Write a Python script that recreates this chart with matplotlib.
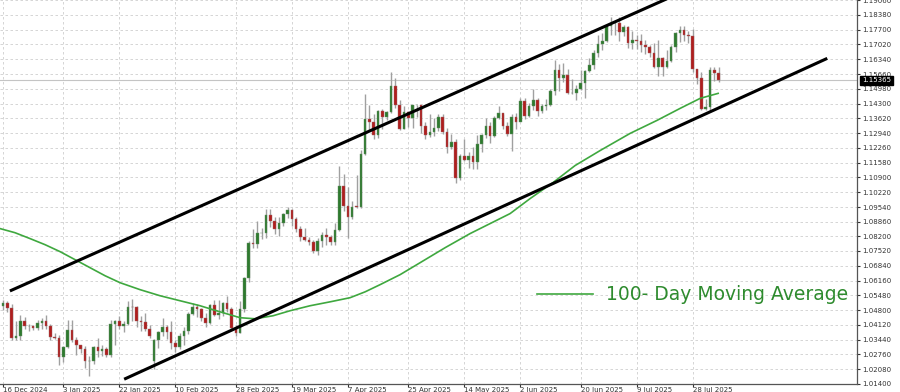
import numpy as np
import pandas as pd
import matplotlib
matplotlib.use("Agg")
import matplotlib.pyplot as plt
import matplotlib.transforms as mtransforms

# EUR/USD daily candles, 16 Dec 2024 - 5 Aug 2025 (weekdays)
dates = pd.bdate_range("2024-12-16", "2025-08-05")

opens = [
    # Dec
    1.0500, 1.0511, 1.0491, 1.0353, 1.0363, 1.0430, 1.0406, 1.0406, 1.0396, 1.0421, 1.0428, 1.0405,
    # Jan
    1.0354, 1.0352, 1.0266, 1.0308, 1.0389, 1.0343, 1.0318, 1.0300, 1.0244, 1.0245, 1.0308, 1.0292,
    1.0302, 1.0274, 1.0418, 1.0430, 1.0409, 1.0415, 1.0496, 1.0493, 1.0430, 1.0423, 1.0392,
    # Feb
    1.0245, 1.0344, 1.0379, 1.0403, 1.0381, 1.0329, 1.0308, 1.0362, 1.0382, 1.0464, 1.0493, 1.0484,
    1.0445, 1.0422, 1.0503, 1.0459, 1.0465, 1.0513, 1.0485, 1.0398,
    # Mar
    1.0376, 1.0485, 1.0626, 1.0790, 1.0784, 1.0834, 1.0834, 1.0919, 1.0888, 1.0851, 1.0879, 1.0923,
    1.0942, 1.0899, 1.0853, 1.0817, 1.0801, 1.0791, 1.0753, 1.0800, 1.0826,
    # Apr
    1.0815, 1.0791, 1.0850, 1.1050, 1.0960, 1.0910, 1.0956, 1.0955, 1.1197, 1.1357, 1.1345, 1.1284,
    1.1398, 1.1370, 1.1393, 1.1513, 1.1423, 1.1313, 1.1389, 1.1364, 1.1422, 1.1423,
    # May
    1.1327, 1.1287, 1.1298, 1.1316, 1.1368, 1.1300, 1.1230, 1.1252, 1.1089, 1.1189, 1.1172, 1.1187,
    1.1163, 1.1243, 1.1284, 1.1327, 1.1283, 1.1362, 1.1385, 1.1326, 1.1289, 1.1370,
    # Jun
    1.1347, 1.1443, 1.1371, 1.1419, 1.1446, 1.1397, 1.1419, 1.1424, 1.1487, 1.1584, 1.1549, 1.1561,
    1.1477, 1.1479, 1.1496, 1.1523, 1.1578, 1.1609, 1.1662, 1.1702, 1.1718,
    # Jul
    1.1787, 1.1800, 1.1800, 1.1757, 1.1780, 1.1708, 1.1723, 1.1720, 1.1700, 1.1690, 1.1663, 1.1598,
    1.1640, 1.1597, 1.1627, 1.1692, 1.1754, 1.1770, 1.1746, 1.1742, 1.1588, 1.1546, 1.1405,
    # Aug
    1.1415, 1.1586, 1.1572,
]
highs = [
    1.0526, 1.0522, 1.0508, 1.0430, 1.0458, 1.0446, 1.0416, 1.0411, 1.0433, 1.0444, 1.0457, 1.0418,
    1.0375, 1.0366, 1.0315, 1.0436, 1.0433, 1.0356, 1.0321, 1.0314, 1.0268, 1.0315, 1.0353, 1.0319,
    1.0310, 1.0433, 1.0436, 1.0455, 1.0430, 1.0521, 1.0533, 1.0497, 1.0455, 1.0468, 1.0411,
    1.0348, 1.0386, 1.0442, 1.0410, 1.0430, 1.0344, 1.0373, 1.0401, 1.0470, 1.0513, 1.0506, 1.0490,
    1.0466, 1.0506, 1.0528, 1.0528, 1.0518, 1.0546, 1.0496, 1.0410,
    1.0522, 1.0630, 1.0797, 1.0854, 1.0889, 1.0857, 1.0947, 1.0947, 1.0906, 1.0906, 1.0928, 1.0955,
    1.0946, 1.0907, 1.0865, 1.0859, 1.0818, 1.0804, 1.0812, 1.0838, 1.0858,
    1.0825, 1.0881, 1.1144, 1.1107, 1.1045, 1.0984, 1.1100, 1.1215, 1.1474, 1.1425, 1.1380, 1.1399,
    1.1405, 1.1395, 1.1573, 1.1547, 1.1446, 1.1418, 1.1398, 1.1425, 1.1424, 1.1424,
    1.1345, 1.1381, 1.1365, 1.1383, 1.1381, 1.1318, 1.1289, 1.1268, 1.1200, 1.1265, 1.1209, 1.1228,
    1.1287, 1.1289, 1.1364, 1.1345, 1.1375, 1.1419, 1.1384, 1.1345, 1.1384, 1.1385,
    1.1454, 1.1455, 1.1434, 1.1495, 1.1456, 1.1429, 1.1452, 1.1498, 1.1632, 1.1614, 1.1615, 1.1590,
    1.1541, 1.1514, 1.1583, 1.1586, 1.1641, 1.1678, 1.1744, 1.1754, 1.1790,
    1.1830, 1.1807, 1.1830, 1.1790, 1.1789, 1.1765, 1.1746, 1.1748, 1.1721, 1.1700, 1.1707, 1.1721,
    1.1644, 1.1677, 1.1700, 1.1759, 1.1789, 1.1788, 1.1762, 1.1771, 1.1589, 1.1577, 1.1450,
    1.1599, 1.1598, 1.1597,
]
lows = [
    1.0482, 1.0471, 1.0342, 1.0343, 1.0343, 1.0395, 1.0384, 1.0390, 1.0387, 1.0395, 1.0393, 1.0343,
    1.0345, 1.0226, 1.0240, 1.0304, 1.0334, 1.0272, 1.0284, 1.0214, 1.0178, 1.0234, 1.0266, 1.0267,
    1.0266, 1.0266, 1.0320, 1.0393, 1.0378, 1.0411, 1.0429, 1.0401, 1.0383, 1.0382, 1.0350,
    1.0210, 1.0304, 1.0362, 1.0348, 1.0303, 1.0285, 1.0300, 1.0319, 1.0370, 1.0456, 1.0448, 1.0432,
    1.0400, 1.0418, 1.0455, 1.0441, 1.0452, 1.0471, 1.0392, 1.0359,
    1.0375, 1.0469, 1.0611, 1.0764, 1.0766, 1.0808, 1.0811, 1.0862, 1.0829, 1.0822, 1.0867, 1.0903,
    1.0869, 1.0838, 1.0797, 1.0797, 1.0778, 1.0744, 1.0733, 1.0768, 1.0779,
    1.0778, 1.0779, 1.0845, 1.0938, 1.0810, 1.0900, 1.0950, 1.0950, 1.1192, 1.1303, 1.1265, 1.1271,
    1.1314, 1.1356, 1.1388, 1.1410, 1.1310, 1.1313, 1.1324, 1.1317, 1.1366, 1.1295,
    1.1265, 1.1275, 1.1281, 1.1305, 1.1290, 1.1202, 1.1219, 1.1065, 1.1079, 1.1166, 1.1132, 1.1131,
    1.1130, 1.1205, 1.1271, 1.1247, 1.1277, 1.1360, 1.1315, 1.1279, 1.1210, 1.1313,
    1.1349, 1.1357, 1.1369, 1.1402, 1.1373, 1.1386, 1.1400, 1.1417, 1.1468, 1.1490, 1.1531, 1.1476,
    1.1474, 1.1446, 1.1492, 1.1454, 1.1575, 1.1590, 1.1646, 1.1678, 1.1714,
    1.1744, 1.1746, 1.1718, 1.1740, 1.1684, 1.1680, 1.1683, 1.1668, 1.1658, 1.1642, 1.1594, 1.1557,
    1.1556, 1.1593, 1.1620, 1.1668, 1.1713, 1.1716, 1.1708, 1.1576, 1.1520, 1.1401, 1.1400,
    1.1391, 1.1532, 1.1530,
]
closes = [
    1.0511, 1.0491, 1.0353, 1.0363, 1.0430, 1.0406, 1.0406, 1.0396, 1.0421, 1.0428, 1.0405, 1.0354,
    1.0352, 1.0266, 1.0308, 1.0389, 1.0343, 1.0318, 1.0300, 1.0244, 1.0245, 1.0308, 1.0292, 1.0302,
    1.0274, 1.0418, 1.0430, 1.0409, 1.0415, 1.0496, 1.0493, 1.0430, 1.0423, 1.0392, 1.0362,
    1.0344, 1.0379, 1.0403, 1.0381, 1.0329, 1.0308, 1.0362, 1.0382, 1.0464, 1.0493, 1.0484, 1.0445,
    1.0422, 1.0503, 1.0459, 1.0465, 1.0513, 1.0485, 1.0398, 1.0376,
    1.0485, 1.0626, 1.0790, 1.0784, 1.0834, 1.0834, 1.0919, 1.0888, 1.0851, 1.0879, 1.0923, 1.0942,
    1.0899, 1.0853, 1.0817, 1.0801, 1.0791, 1.0753, 1.0800, 1.0826, 1.0815,
    1.0791, 1.0850, 1.1050, 1.0960, 1.0910, 1.0956, 1.0955, 1.1197, 1.1357, 1.1345, 1.1284, 1.1398,
    1.1370, 1.1393, 1.1513, 1.1423, 1.1313, 1.1389, 1.1364, 1.1422, 1.1423, 1.1327,
    1.1287, 1.1298, 1.1316, 1.1368, 1.1300, 1.1230, 1.1252, 1.1089, 1.1189, 1.1172, 1.1187, 1.1163,
    1.1243, 1.1284, 1.1327, 1.1283, 1.1362, 1.1385, 1.1326, 1.1289, 1.1370, 1.1347,
    1.1443, 1.1371, 1.1419, 1.1446, 1.1397, 1.1419, 1.1424, 1.1487, 1.1584, 1.1549, 1.1561, 1.1477,
    1.1479, 1.1496, 1.1523, 1.1578, 1.1609, 1.1662, 1.1702, 1.1718, 1.1787,
    1.1800, 1.1800, 1.1757, 1.1780, 1.1708, 1.1723, 1.1720, 1.1700, 1.1690, 1.1663, 1.1598, 1.1640,
    1.1597, 1.1627, 1.1692, 1.1754, 1.1770, 1.1746, 1.1742, 1.1588, 1.1546, 1.1405, 1.1415,
    1.1586, 1.1572, 1.15365,
]

# 100-day moving average (bar index, price)
ma_pos = [-0.70, 2.78, 6.26, 9.74, 13.22, 16.71, 20.19, 23.67, 27.15, 31.79, 36.43, 41.07,
          45.71, 50.35, 54.99, 58.47, 62.65, 66.59, 71.23, 75.87, 80.51, 84.00, 87.47,
          92.11, 96.75, 102.55, 108.35, 112.99, 117.63, 122.27, 127.61, 132.71, 138.52,
          145.48, 151.74, 157.08, 161.72, 165.89]
ma_val = [1.0855, 1.0836, 1.0809, 1.0781, 1.0749, 1.0712, 1.0675, 1.0638, 1.0606, 1.0574,
          1.0546, 1.0523, 1.0500, 1.0472, 1.0445, 1.0440, 1.0454, 1.0477, 1.0500, 1.0518,
          1.0537, 1.0564, 1.0597, 1.0643, 1.0698, 1.0767, 1.0832, 1.0878, 1.0924, 1.0993,
          1.1067, 1.1145, 1.1214, 1.1293, 1.1353, 1.1408, 1.1454, 1.1477]

# channel trend lines (bar index, price)
upper_pos = [1.6, 160.0]
upper_val = [1.0568, 1.1965]
lower_pos = [28.1, 191.2]
lower_val = [1.0162, 1.1638]

last_price = 1.15365

tick_dates = ["2024-12-16", "2025-01-03", "2025-01-22", "2025-02-10", "2025-02-28",
              "2025-03-19", "2025-04-07", "2025-04-25", "2025-05-14", "2025-06-02",
              "2025-06-20", "2025-07-09", "2025-07-28"]
tick_labels = ["16 Dec 2024", "3 Jan 2025", "22 Jan 2025", "10 Feb 2025", "28 Feb 2025",
               "19 Mar 2025", "7 Apr 2025", "25 Apr 2025", "14 May 2025", "2 Jun 2025",
               "20 Jun 2025", "9 Jul 2025", "28 Jul 2025"]

# price scale labels as printed on the chart
y_ticks = [1.01400, 1.02080, 1.02760, 1.03440, 1.04120, 1.04800, 1.05480, 1.06160,
           1.06840, 1.07520, 1.08200, 1.08860, 1.09540, 1.10220, 1.10900, 1.11580,
           1.12260, 1.12940, 1.13620, 1.14300, 1.14980, 1.15660, 1.16340, 1.17020,
           1.17700, 1.18380, 1.19060]

o = np.array(opens)
h = np.array(highs)
l = np.array(lows)
c = np.array(closes)
x = np.arange(len(dates))
assert len(o) == len(h) == len(l) == len(c) == len(dates)

UP = "#2e7a2e"
DOWN = "#b01e1e"
WICK = "#a0a0a0"
GRID = "#cfcfcf"

fig = plt.figure(figsize=(9, 3.92), dpi=100, facecolor="white")
ax = fig.add_axes([0.0, 8 / 392, 857 / 900, 384 / 392])
ax.set_facecolor("white")

# grid
for yt in y_ticks:
    ax.axhline(yt, color=GRID, lw=0.6, ls=(0, (3, 3)), zorder=0)
tick_pos = [dates.get_loc(pd.Timestamp(d)) for d in tick_dates]
for xt in tick_pos:
    ax.axvline(xt, color=GRID, lw=0.6, ls=(0, (3, 3)), zorder=0)

# current price line
ax.axhline(last_price, color="#c4c4c4", lw=0.8, zorder=1)

# candles
ax.vlines(x, l, h, color=WICK, lw=1.0, zorder=2)
up = c >= o
body = np.maximum(np.abs(c - o), 0.00025)
bottom = np.minimum(o, c)
ax.bar(x[up], body[up], bottom=bottom[up], width=0.6, color=UP,
       edgecolor="#6a8f6a", linewidth=0.3, zorder=3)
ax.bar(x[~up], body[~up], bottom=bottom[~up], width=0.6, color=DOWN,
       edgecolor="#9a6a6a", linewidth=0.3, zorder=3)

# moving average
ax.plot(ma_pos, ma_val, color="#3fa83f", lw=1.2, zorder=4,
        label="100- Day Moving Average")

# channel
ax.plot(upper_pos, upper_val, color="black", lw=2.2, zorder=5, solid_capstyle="butt")
ax.plot(lower_pos, lower_val, color="black", lw=2.2, zorder=5, solid_capstyle="butt")

ax.set_xlim(-0.7, 198.1)
ax.set_ylim(1.0140, 1.19065)

ax.yaxis.tick_right()
ax.set_yticks(y_ticks)
ax.set_yticklabels([f"{v:.5f}" for v in y_ticks])
ax.set_xticks(tick_pos)
ax.set_xticklabels(tick_labels, ha="left")
ax.tick_params(axis="y", labelsize=5, length=2, pad=2, colors="#333333")
ax.tick_params(axis="x", labelsize=5, length=2, pad=0.5, colors="#333333")

for side in ("left", "top"):
    ax.spines[side].set_visible(False)
for side in ("right", "bottom"):
    ax.spines[side].set_color("#555555")
    ax.spines[side].set_linewidth(0.9)

# last price tag
trans = mtransforms.blended_transform_factory(ax.transAxes, ax.transData)
ax.text(1.006, last_price, f"{last_price:.5f}", transform=trans, fontsize=5,
        color="white", va="center", ha="left", zorder=10, clip_on=False,
        bbox=dict(boxstyle="square,pad=0.25", facecolor="black", edgecolor="black"))

leg = ax.legend(loc="center left", bbox_to_anchor=(537 / 857, (384 - 295) / 384),
                frameon=False, handlelength=3.0, handletextpad=0.7, borderpad=0,
                borderaxespad=0, prop={"family": "DejaVu Sans", "size": 13.5},
                labelcolor="#2e8b2e")

fig.savefig("out.png", dpi=100, facecolor="white")
